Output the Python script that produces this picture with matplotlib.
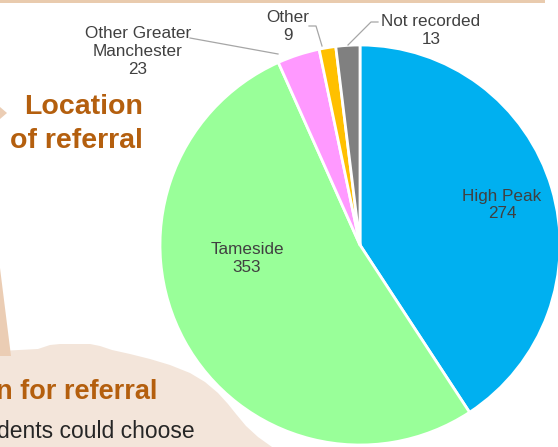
import matplotlib.pyplot as plt
from matplotlib.patches import Polygon, Rectangle

plt.rcParams['font.family'] = ['Liberation Sans', 'DejaVu Sans']

# referral counts by location
locations = ['High Peak', 'Tameside', 'Other Greater\nManchester', 'Other', 'Not recorded']
counts = [274, 353, 23, 9, 13]
colors = ['#00B0F0', '#99FF99', '#FF99FF', '#FFC000', '#808080']

W, H = 558, 447
fig = plt.figure(figsize=(W / 100, H / 100), dpi=100)
ax = fig.add_axes([0, 0, 1, 1])


def py(y):
    # screen-style y (from top) to axes y
    return H - y


# slide decoration behind the chart
ax.add_patch(Rectangle((0, py(3)), 545, 3, color='#E9CBAE', lw=0))
blob = [(0, 351), (38, 349), (44, 347), (50, 345), (60, 344), (90, 344), (100, 346),
        (112, 350), (130, 354), (150, 359), (170, 365), (190, 373), (205, 382),
        (218, 393), (228, 404), (236, 414), (246, 426), (258, 437), (272, 447), (0, 447)]
ax.add_patch(Polygon([(x, py(y)) for x, y in blob], closed=True, color='#F3E5DA', lw=0))
ax.add_patch(Polygon([(0, py(268)), (11, py(356)), (0, py(356))], closed=True, color='#EBCDB4', lw=0))
ax.add_patch(Polygon([(0, py(107)), (7, py(113)), (0, py(119))], closed=True, color='#EBCDB4', lw=0))

ax.text(143, py(107), 'Location', ha='right', va='center', fontsize=20.5,
        fontweight='bold', color='#B45F0E')
ax.text(143, py(141), 'of referral', ha='right', va='center', fontsize=20.5,
        fontweight='bold', color='#B45F0E')
ax.text(-4, py(392), 'n for referral', ha='left', va='center', fontsize=19.5,
        fontweight='bold', color='#B45F0E')
ax.text(-3, py(431), 'dents could choose', ha='left', va='center', fontsize=16.5,
        color='#262626')

cx, cy, r = 360, py(245), 200
ax.pie(counts, colors=colors, startangle=90, counterclock=False,
       center=(cx, cy), radius=r, frame=True,
       wedgeprops=dict(edgecolor='white', linewidth=2))
ax.set_xlim(0, W)
ax.set_ylim(0, H)
ax.set_aspect('equal')
ax.axis('off')

lab = dict(ha='center', va='center', fontsize=12.3, color='#404040', linespacing=1.25)
ax.text(502, py(205), f'{locations[0]}\n{counts[0]}', **lab)
ax.text(247, py(258), f'{locations[1]}\n{counts[1]}', **lab)
ax.text(138, py(52), f'{locations[2]}\n{counts[2]}', **lab)
ax.text(288, py(26), f'{locations[3]}\n{counts[3]}', **lab)
ax.text(431, py(31), f'{locations[4]}\n{counts[4]}', **lab)

# leader lines for the small slices
line = dict(color='#A6A6A6', lw=0.9)
ax.plot([190, 278], [py(38), py(54)], **line)
ax.plot([309, 316, 322], [py(26), py(26), py(46)], **line)
ax.plot([378, 371, 348], [py(22), py(22), py(45)], **line)

fig.savefig('out.png', dpi=100)
